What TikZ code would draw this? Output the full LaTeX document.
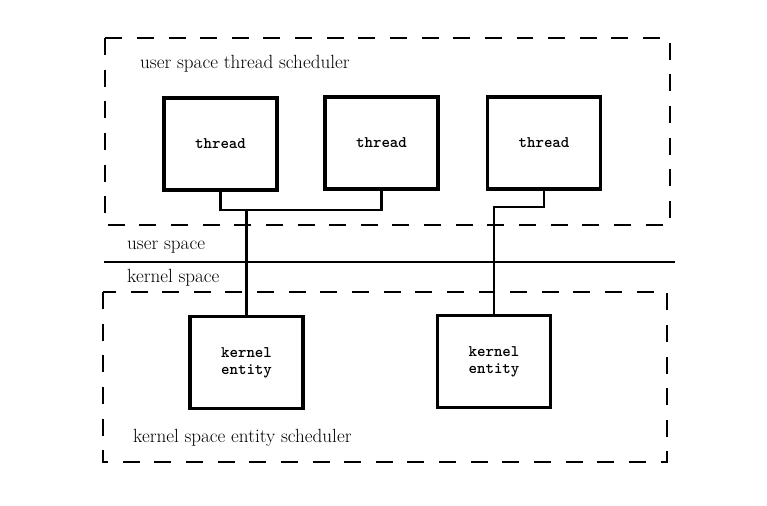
\documentclass[tikz,border=0pt]{standalone}
\usepackage{fontspec}
\usepackage{tikz}
\usetikzlibrary{positioning}
\tikzset{
  box/.style={draw,line width=2.6pt,minimum width=3.39cm,minimum height=2.76cm,
    inner sep=0pt,align=center,font=\ttfamily\bfseries\fontsize{13.8}{14.5}\selectfont},
  zone/.style={line width=1.5pt,dash pattern=on 14.5pt off 12.5pt},
  wire/.style={line width=2pt,line join=miter},
  lbl/.style={anchor=west,inner sep=0pt,font=\fontsize{16.3}{18}\selectfont}
}
\begin{document}
\begin{tikzpicture}[x=0.03cm,y=-0.03cm]
\useasboundingbox[fill=white](0,0)rectangle(767,505);
%scheduler zones
\draw[zone](105,38)rectangle(670,225);
\draw[zone](103,292)rectangle(667,462);
\node[lbl](usched)at(140,64){user space thread scheduler};
\node[lbl](ksched)at(133,438){kernel space entity scheduler};
%user/kernel boundary
\coordinate(bl)at(104,262);
\coordinate(br)at(675,262);
\draw[line width=1.7pt](bl)--(br);
\node[lbl](uspace)at(127,247){user space};
\node[lbl](kspace)at(127,278){kernel space};
%threads
\node[box](t1)at(220.5,144){thread};
\node[box](t2)at(381.5,143){thread};
\node[box](t3)at(544,143){thread};
%kernel entities
\node[box](k1)at(246.5,362.5){kernel\\entity};
\node[box](k2)at(494,361.5){kernel\\entity};
%connections
\coordinate(bus)at(246.5,210);
\coordinate(bend)at(494,207);
\draw[wire](t1.south)|-(bus)-|(t2.south);
\draw[wire](bus)--(k1.north);
\draw[wire](t3.south)|-(bend)--(k2.north);
\end{tikzpicture}
\end{document}
